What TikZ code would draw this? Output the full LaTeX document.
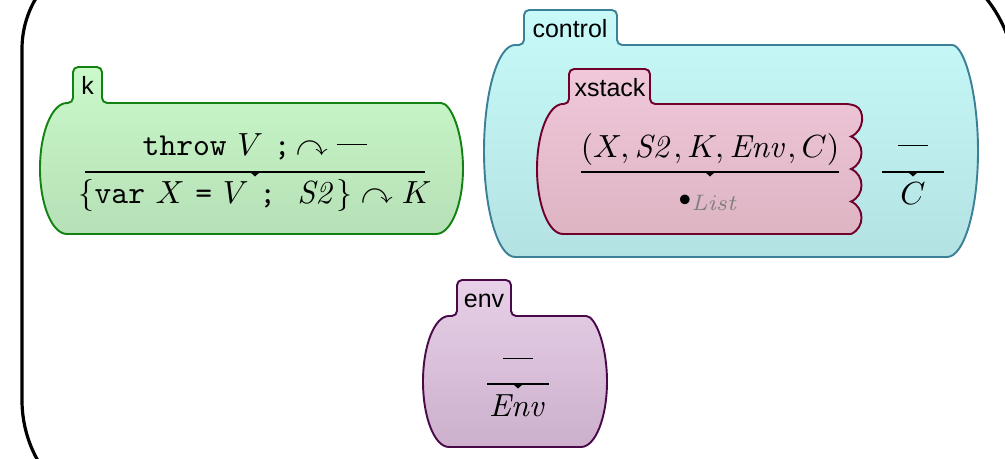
\documentclass[tikz,border=0pt]{standalone}
\usepackage{amssymb}
\usepackage[no-math]{fontspec}
\newfontfamily\lblfont{Liberation Sans}
\usepackage{xcolor}
\def\u{0.3125pt}
\definecolor{kfillT}{HTML}{CAF9CA}
\definecolor{kfillB}{HTML}{B6E0B6}
\definecolor{kdraw}{HTML}{128212}
\definecolor{cfillT}{HTML}{C8FAFA}
\definecolor{cfillB}{HTML}{B4E2E2}
\definecolor{cdraw}{HTML}{3C8098}
\definecolor{xfillT}{HTML}{F0C8DA}
\definecolor{xfillB}{HTML}{DCB4C2}
\definecolor{xdraw}{HTML}{70002A}
\definecolor{efillT}{HTML}{E8D0E8}
\definecolor{efillB}{HTML}{CCB0CC}
\definecolor{edraw}{HTML}{4A0A4A}
\tikzset{
  cellk/.style={draw=kdraw, line width=0.6pt, top color=kfillT, bottom color=kfillB},
  cellc/.style={draw=cdraw, line width=0.6pt, top color=cfillT, bottom color=cfillB},
  cellx/.style={draw=xdraw, line width=0.6pt, top color=xfillT, bottom color=xfillB},
  celle/.style={draw=edraw, line width=0.6pt, top color=efillT, bottom color=efillB},
  outercell/.style={draw=black, line width=1pt},
  txt/.style={anchor=base, inner sep=0pt, font=\fontsize{10}{12}\selectfont},
  lbl/.style={anchor=base, inner sep=0pt, font=\fontsize{7.8}{9}\selectfont\lblfont},
  fracline/.style={draw=black, line width=0.4pt},
}
\newcommand{\anyv}{\rule[3.4pt]{9.5pt}{0.4pt}}
% #1 style, #2 L, #3 T, #4 R, #5 B, #6 a, #7 TL, #8 TR, #9 TT
\newcommand{\kcell}[9][]{%
  \path[#1] ({#2+#6},#3) [rounded corners=1.6pt] -- (#7,#3) -- (#7,#9) -- (#8,#9) -- (#8,#3) -- ({#4-#6},#3) [sharp corners]
    arc[start angle=90,end angle=-90,x radius={#6*\u},y radius={(#5-#3)/2*\u}]
    -- ({#2+#6},#5)
    arc[start angle=270,end angle=90,x radius={#6*\u},y radius={(#5-#3)/2*\u}]
    -- cycle;}
\newcommand{\ktri}[2]{\fill ({#1-5},#2) -- ({#1+5},#2) -- (#1,{#2+4.5}) -- cycle;}
\begin{document}
\begin{tikzpicture}[x=0.3125pt,y=-0.3125pt]
\clip (0,0) rectangle (1005,459);
% outer cell
\path[outercell] (22,150) -- (22,49) arc[start angle=180,end angle=90,radius={99*\u}]
  -- (885,-50) arc[start angle=90,end angle=0,radius={130*\u}]
  -- (1015,423.5) arc[start angle=0,end angle=-90,radius={100*\u}]
  -- (145.5,523.5) arc[start angle=270,end angle=180,radius={123.5*\u}]
  -- cycle;
% k cell
\kcell[cellk]{40}{103}{463}{234}{27}{73}{102}{67}
% control cell
\kcell[cellc]{484}{45}{978}{257}{31}{524}{617}{10}
% xstack cell (ragged right)
\path[cellx] (563,104) [rounded corners=1.6pt] -- (569,104) -- (569,69) -- (650,69) -- (650,104) -- (851,104) [sharp corners]
  .. controls (865,110) and (865,130.5) .. (851,136.5)
  .. controls (865,142.5) and (865,163) .. (851,169)
  .. controls (865,175) and (865,195.5) .. (851,201.5)
  .. controls (865,207.5) and (865,228) .. (851,234)
  -- (563,234)
  arc[start angle=270,end angle=90,x radius={26*\u},y radius={65*\u}]
  -- cycle;
% env cell
\kcell[celle]{423}{316}{607}{447}{26}{457}{511}{280}
% labels
\node[lbl] (klbl) at (87.5,95) {k};
\node[lbl] (clbl) at (570,38) {control};
\node[lbl] (xlbl) at (610,97) {xstack};
\node[lbl] (elbl) at (484,308) {env};
% k contents
\node[txt] (ktop) at (255,156) {$\texttt{throw}\ V\ \texttt{;}\mskip-2mu\curvearrowright\anyv$};
\draw[fracline] (85,172) -- (425,172);
\ktri{255}{172}
\node[txt] (kbot) at (255,204) {$\{\texttt{var}\ X\ \texttt{=}\ V\ \texttt{;}\ \ \mathit{S2}\}\curvearrowright K$};
% xstack contents
\node[txt] (xtop) at (710,158) {$(X, \mathit{S2}, K, \mathit{Env}, C)$};
\draw[fracline] (581,172) -- (839,172);
\ktri{710}{172}
\node[txt] (xbot) at (709,206) {$\mathord{\scriptstyle\bullet}_{\color{gray}\mathit{List}}$};
% control rest
\node[txt] (ctop) at (913,157) {$\anyv$};
\draw[fracline] (882,172) -- (944,172);
\ktri{913}{172}
\node[txt] (cbot) at (913,205) {$C$};
% env contents
\node[txt] (etop) at (518,370) {$\anyv$};
\draw[fracline] (487,384) -- (549,384);
\ktri{518}{384}
\node[txt] (ebot) at (518,417) {$\mathit{Env}$};
\end{tikzpicture}
\end{document}
